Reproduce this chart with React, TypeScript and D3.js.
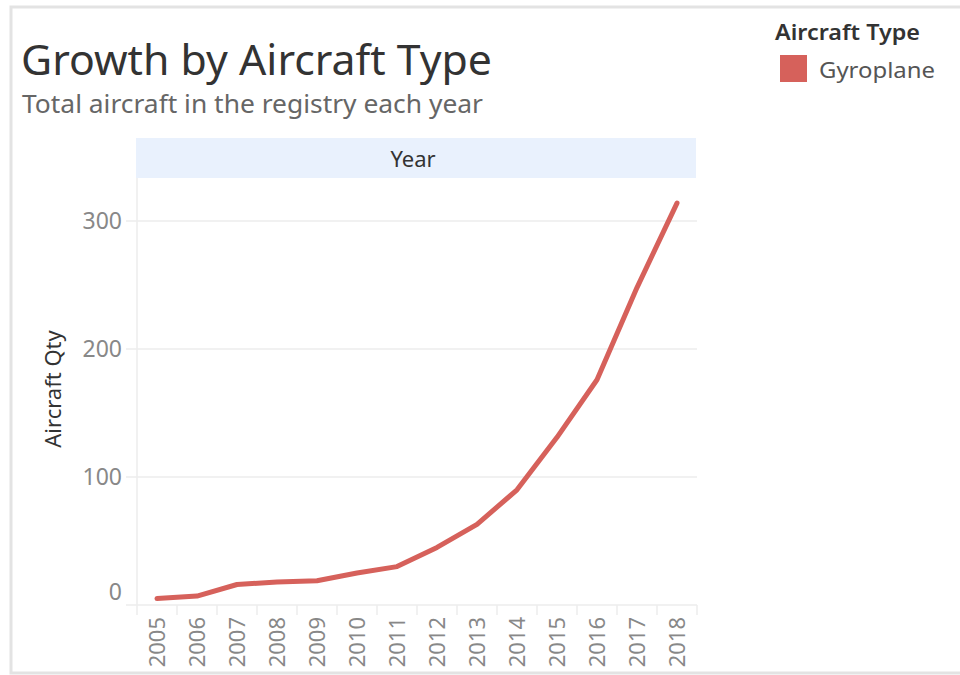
import React from "react";
import * as d3 from "d3";

const years = ["2005","2006","2007","2008","2009","2010","2011","2012","2013","2014","2015","2016","2017","2018"];
const gyroplane = [5, 7, 16, 18, 19, 25, 30, 45, 63, 90, 131, 176, 248, 314];
const yTicks = [0, 100, 200, 300];
const seriesName = "Gyroplane";
const legendTitle = "Aircraft Type";
const title = "Growth by Aircraft Type";
const subtitle = "Total aircraft in the registry each year";
const xTitle = "Year";
const yTitle = "Aircraft Qty";

const W = 960, H = 675;
const plotL = 137, plotR = 697, plotT = 178, plotB = 605;
const FONT = "'Noto Sans', 'Open Sans', sans-serif";
const LINE = "#d6615b";

export default function App() {
  const x = d3.scaleBand<string>().domain(years).range([plotL, plotR]);
  const y = d3.scaleLinear().domain([0, 333.6]).range([plotB, plotT]);
  const line = d3.line<number>()
    .x((_, i) => (x(years[i]) as number) + x.bandwidth() / 2)
    .y((d) => y(d))
    .curve(d3.curveLinear);

  return (
    <svg width={W} height={H} style={{ position: "absolute", left: 0, top: 0, background: "#fff" }}>
      {/* frame */}
      <rect x={11} y={7} width={W} height={666} fill="none" stroke="#e3e3e3" strokeWidth={3} />
      {/* title */}
      <text x={21} y={75} fontFamily={FONT} fontSize={42} fill="#333" textLength={471} lengthAdjust="spacingAndGlyphs">{title}</text>
      <text x={22} y={113} fontFamily={FONT} fontSize={25} fill="#666" textLength={461} lengthAdjust="spacingAndGlyphs">{subtitle}</text>

      {/* header band */}
      <rect x={136} y={138} width={560} height={40} fill="#e9f1fd" />
      <text x={413} y={167} textAnchor="middle" fontFamily={FONT} fontSize={22} fill="#333">{xTitle}</text>

      {/* grid lines */}
      {yTicks.map((t) => (
        <line key={t} x1={126} x2={plotR} y1={y(t)} y2={y(t)} stroke="#ececec" strokeWidth={1.5} />
      ))}
      {/* left axis */}
      <line x1={plotL} x2={plotL} y1={plotT} y2={plotB + 10} stroke="#ececec" strokeWidth={1.5} />
      {/* band separators */}
      {years.slice(1).map((yr) => (
        <line key={yr} x1={x(yr)} x2={x(yr)} y1={plotB} y2={plotB + 10} stroke="#ececec" strokeWidth={1.5} />
      ))}
      <line x1={plotR} x2={plotR} y1={plotB} y2={plotB + 10} stroke="#ececec" strokeWidth={1.5} />

      {/* y tick labels */}
      {yTicks.map((t) => (
        <text key={t} x={122} y={t === 0 ? y(t) - 13 : y(t)} dy="0.35em" textAnchor="end"
          fontFamily={FONT} fontSize={23} fill="#888">{t}</text>
      ))}
      {/* y title */}
      <text transform={`translate(${53},${389}) rotate(-90)`} dy="0.35em" textAnchor="middle"
        fontFamily={FONT} fontSize={22} fill="#333">{yTitle}</text>

      {/* x tick labels */}
      {years.map((yr) => (
        <text key={yr} transform={`translate(${(x(yr) as number) + x.bandwidth() / 2},${617}) rotate(-90)`}
          dy="0.35em" textAnchor="end" fontFamily={FONT} fontSize={22} fill="#888">{yr}</text>
      ))}

      {/* line */}
      <path d={line(gyroplane) || ""} fill="none" stroke={LINE} strokeWidth={5} strokeLinecap="round" strokeLinejoin="round" />

      {/* legend */}
      <text x={775} y={40} fontFamily={FONT} fontSize={22} fontWeight={600} fill="#333" textLength={145} lengthAdjust="spacingAndGlyphs">{legendTitle}</text>
      <rect x={780} y={55} width={27} height={27} fill={LINE} />
      <text x={819} y={70} dy="0.35em" fontFamily={FONT} fontSize={22} fill="#555" textLength={116} lengthAdjust="spacingAndGlyphs">{seriesName}</text>
    </svg>
  );
}
